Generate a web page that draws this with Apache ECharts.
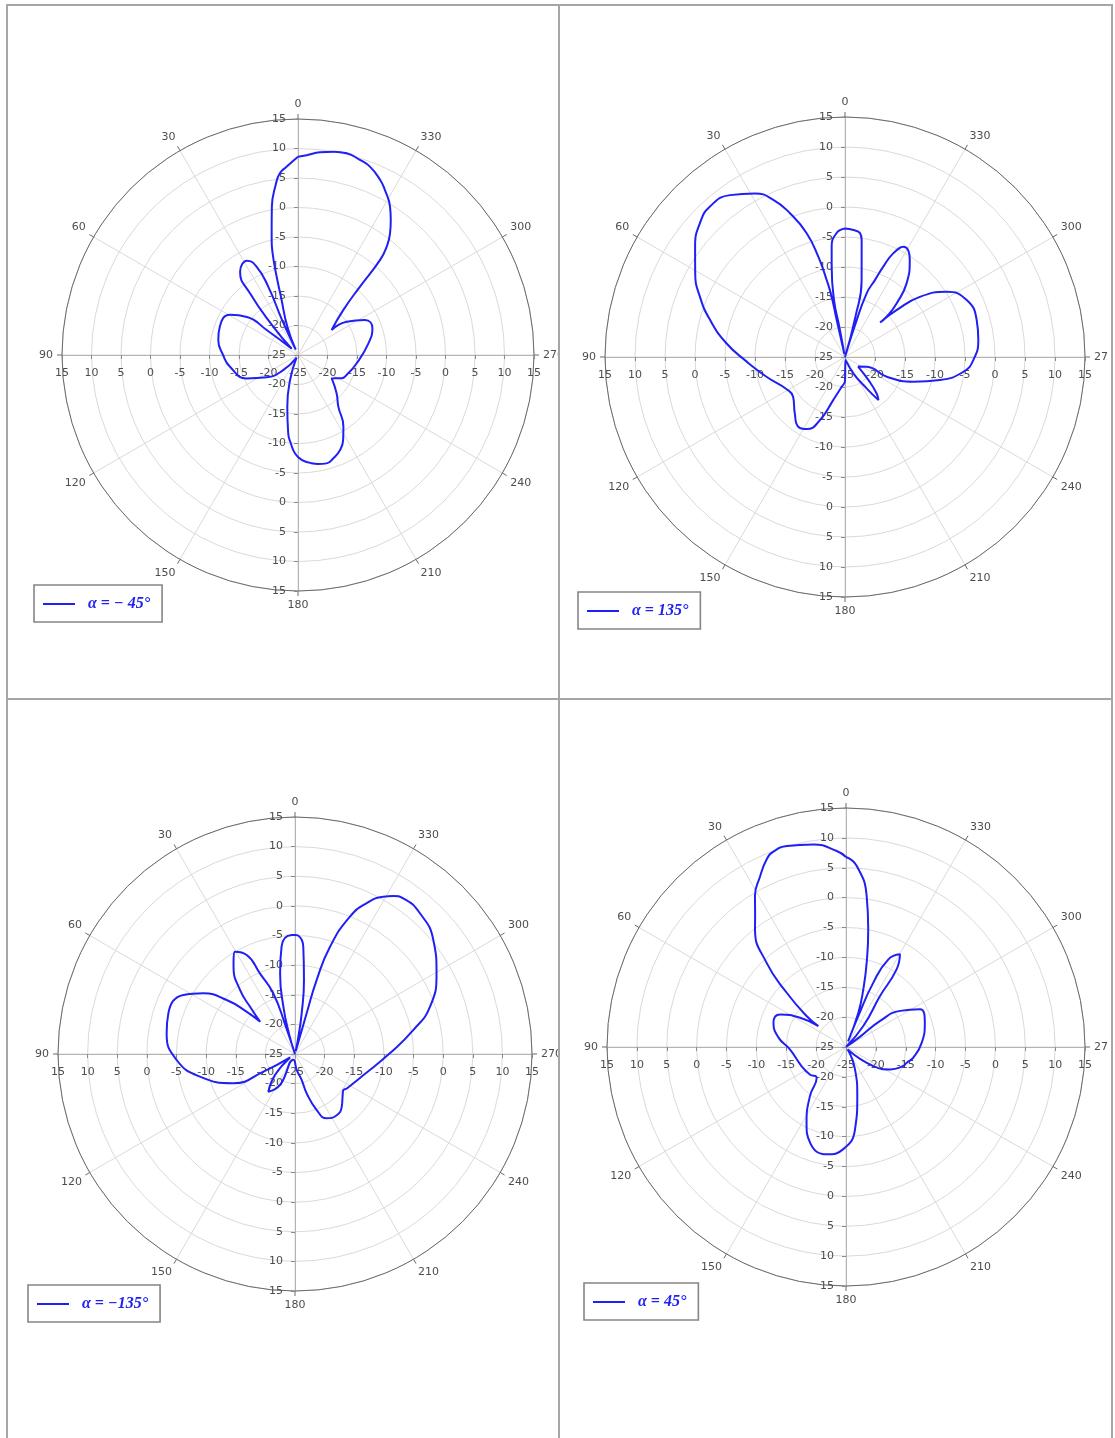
<!DOCTYPE html>
<html><head><meta charset="utf-8">
<script src="https://cdn.jsdelivr.net/npm/echarts@6/dist/echarts.min.js"></script>
<style>
html,body{margin:0;padding:0;background:#fff;}
#wrap{position:relative;width:1115px;height:1438px;overflow:hidden;background:#fff;}
.panel{position:absolute;}
.ln{position:absolute;background:#a6a6a6;z-index:5;}
</style></head><body>
<div id="wrap">
  <div class="panel" id="c0" style="left:7px;top:5px;width:552px;height:694px"></div>
  <div class="panel" id="c1" style="left:559px;top:5px;width:549px;height:694px"></div>
  <div class="panel" id="c2" style="left:7px;top:699px;width:552px;height:739px"></div>
  <div class="panel" id="c3" style="left:559px;top:699px;width:549px;height:739px"></div>
  <div class="ln" style="left:6px;top:4px;width:1107px;height:2px"></div>
  <div class="ln" style="left:6px;top:4px;width:2px;height:1434px"></div>
  <div class="ln" style="left:1111px;top:4px;width:2px;height:1434px"></div>
  <div class="ln" style="left:558px;top:4px;width:2px;height:1434px"></div>
  <div class="ln" style="left:6px;top:698px;width:1107px;height:2px"></div>
</div>
<script>
// ---- data (angle in degrees, counter-clockwise from top; gain in dB) ----
const legendNames = ['α = − 45°', 'α = 135°', 'α = −135°', 'α = 45°'];

const angles1 = [0, 3.4, 5.7, 7.3, 10, 11.6, 12.9, 14, 15.1, 16.3, 20.7, 22.5, 24.5, 23.5, 25.1, 28.5, 31.5, 34.8, 37.9, 41.1, 45, 51.4, 53.3, 59.5, 70, 79.3, 90, 99.8, 114.4, 125.5, 135.6, 150, 162.3, 168.3, 172.9, 175.3, 178.3, 182, 186.4, 190.5, 194.8, 198.9, 203.9, 208, 212.3, 218, 225.3, 235.3, 242, 247.7, 262, 279.4, 289.7, 297.6, 304.4, 306.6, 314.8, 317.8, 319.2, 320.7, 322.9, 325.5, 328.2, 332.2, 334.9, 339.1, 342.4, 346.4, 350, 353.8, 357.5, 360];
const gain1 = [8.6, 7.0, 5.95, 4.3, 0.5, -2.8, -5, -7.2, -10.7, -14.7, -19.9, -24, -18.5, -12.4, -8.5, -6.8, -6.9, -7.8, -11.75, -18.6, -23.5, -18.2, -14.2, -11.6, -10.9, -11.25, -12.3, -13.3, -15.4, -18.5, -21.4, -24.5, -20.6, -16.05, -11.6, -10.0, -8.3, -7.2, -6.6, -6.2, -6.0, -6.5, -7.4, -8.7, -10.6, -13.9, -15.8, -18.05, -16.6, -16.1, -14.95, -12.9, -11.6, -12.2, -15, -17.9, -14.2, -9.4, -3.7, -1.27, 0.86, 2.76, 4.6, 6.6, 7.8, 9.17, 9.7, 10.17, 10.0, 9.56, 8.9, 8.6];

const angles2 = [0, 3.9, 6.9, 8.4, 10.9, 10.6, 12, 12.7, 12.5, 13.4, 14.9, 17.2, 20.9, 24.5, 28.8, 35.4, 41.9, 47.3, 53.7, 60.8, 67.4, 74.7, 83.4, 92.7, 104.1, 118.9, 127.5, 138.4, 146.2, 152.1, 158.4, 164.8, 173.6, 180, 190, 207, 214.7, 217.8, 221, 225.4, 234, 245.9, 244.7, 250.1, 256.4, 262.9, 268.7, 277.3, 285.7, 295.1, 302.7, 308.8, 312.3, 314.5, 314.1, 316.1, 320.1, 326.2, 332.1, 335, 337, 338.7, 341.2, 342.5, 344.5, 345.5, 347.8, 351.9, 353.1, 356.2, 360];
const gain2 = [-3.6, -4.3, -6.5, -9.8, -15.3, -19.9, -24.5, -18.7, -14.7, -11.8, -7.7, -3.4, 0.6, 3.8, 6.1, 8.1, 8.7, 7.9, 6.0, 3.6, 1.2, -1.7, -5.1, -8.6, -11.5, -13.9, -14.1, -12.4, -11.0, -11.4, -13.7, -17.6, -20.0, -21, -24.5, -21.9, -18.6, -15.9, -17, -19.5, -22.3, -21.0, -17.3, -12.9, -8.7, -5.1, -3.6, -2.6, -2.2, -2.6, -4.9, -9.0, -13.4, -16.8, -15.3, -12.6, -9.0, -5.6, -4.2, -5.9, -8.6, -11.2, -13.8, -19.5, -25, -18, -11.9, -5.3, -4.2, -3.8, -3.6];

const angles3 = [0, 1.6, 7.1, 10.5, 13.8, 16.5, 18, 18.5, 19.7, 23.5, 26, 30.4, 35.2, 40.7, 43.6, 47.3, 48.8, 51.7, 56.5, 62.1, 72.2, 80.9, 92.9, 103.4, 115.4, 119.2, 125, 136.4, 144.7, 154.2, 165, 186, 194.4, 196.5, 201.1, 206.2, 214.3, 221.5, 228, 232.8, 236.4, 252.9, 270.4, 281.5, 289.3, 299.7, 309.5, 318.4, 325.2, 328.1, 330.7, 334.6, 338.2, 341.9, 343.7, 344, 346.5, 349, 350.7, 353.1, 355.6, 358.5, 360];
const gain3 = [-4.9, -4.9, -6.7, -11.2, -16.8, -21.5, -25, -20, -14.1, -10.2, -6.4, -5.0, -7.0, -10.8, -14.0, -17.0, -14.2, -10.3, -6.45, -3.7, -2.55, -3.06, -5.0, -8.5, -13.5, -18.9, -24, -20.1, -17.2, -19.2, -24, -22.3, -20.5, -18.1, -14.9, -12.9, -12.5, -13.1, -14.2, -14.8, -14.5, -12.9, -9.0, -4.6, -0.85, 2.5, 5.26, 6.76, 7.0, 6.4, 5.45, 3.2, -0.03, -5.9, -12.0, -17.9, -24.5, -22.0, -18.0, -12.4, -6.8, -5.0, -4.9];

const angles4 = [0, 2.7, 9.2, 16.4, 20.4, 22.9, 26.8, 31.1, 34.2, 37.7, 43.3, 47.5, 51.8, 52.8, 57.5, 63.7, 71.5, 82.1, 92.4, 113.2, 127.2, 136.3, 143.7, 152.5, 159.4, 169.8, 178.5, 186.2, 193, 202, 215, 235.2, 243.1, 251.7, 255.5, 261, 273.3, 287.1, 297, 303.7, 307.4, 306, 312, 320.5, 326.3, 326.9, 329.8, 334.2, 337, 338.3, 339.5, 340.2, 343.3, 346.2, 349.3, 352.2, 356.6, 360];
const gain4 = [6.8, 7.84, 9.35, 10.07, 9.88, 9.1, 6.93, 4.5, 2.06, -0.1, -5.6, -11.5, -16.6, -19.2, -15.9, -12.7, -12.2, -13.6, -15.6, -16.9, -17.4, -17.9, -14.8, -10.7, -7.9, -6.75, -7.9, -11.1, -16.6, -21.0, -24.5, -19.4, -16.7, -14.9, -14.5, -13.6, -12.3, -11.2, -11.1, -14.1, -17.8, -22.2, -25, -20.4, -14.7, -9.5, -7.05, -8.7, -13.3, -19.4, -24, -18.9, -14.9, -10.5, -4.96, 0.5, 5.35, 6.8];

const RADIUS_MIN = -25, RADIUS_MAX = 15, RADIUS_STEP = 5;
const ANGLE_STEP = 30;

// ---- layout / style ----
const layouts = [
  {cx: 291, cy: 350, r: 236, lx: 27, ly: 580},
  {cx: 286, cy: 352, r: 240, lx: 19, ly: 587},
  {cx: 288, cy: 355, r: 237, lx: 21, ly: 586},
  {cx: 287, cy: 348, r: 239, lx: 25, ly: 584}
];
const series = [[angles1, gain1], [angles2, gain2], [angles3, gain3], [angles4, gain4]];
const BLUE = '#2020f4';
const FONT = 'DejaVu Sans';
const LABEL_COLOR = '#4d4d4d';

function makeOption(i) {
  const L = layouts[i];
  const starts = [90, 270, 180, 0];
  const polar = starts.map(() => ({center: [L.cx, L.cy], radius: L.r}));
  const angleAxis = starts.map((s, k) => ({
    polarIndex: k, type: 'value', min: 0, max: 360, interval: ANGLE_STEP,
    startAngle: s, clockwise: false,
    axisLine: {show: k === 0, lineStyle: {color: '#6a6a6a', width: 1}},
    axisTick: {show: k === 0, length: 5, lineStyle: {color: '#6a6a6a'}},
    axisLabel: {show: k === 0, margin: 9, color: LABEL_COLOR, fontSize: 11, fontFamily: FONT,
      formatter: v => (v >= 360 ? '' : String(v))},
    splitLine: {show: k === 0, lineStyle: {color: '#dadada', width: 1}},
    splitArea: {show: false}
  }));
  const labelCfg = [
    {margin: 12},
    {margin: -12, align: 'right', verticalAlign: 'middle'},
    {margin: 13},
    {margin: -13, align: 'center', verticalAlign: 'top'}
  ];
  const radiusAxis = starts.map((s, k) => ({
    polarIndex: k, type: 'value', min: RADIUS_MIN, max: RADIUS_MAX, interval: RADIUS_STEP,
    axisLine: {show: true, lineStyle: {color: '#b4b4b4', width: 1}},
    axisTick: {show: true, length: (k === 1 || k === 3) ? -4 : 4, lineStyle: {color: '#8a8a8a'}},
    axisLabel: Object.assign({color: LABEL_COLOR, fontSize: 11, fontFamily: FONT,
      formatter: v => ((v === RADIUS_MIN && (k === 1 || k === 2)) ? '' : String(v))}, labelCfg[k]),
    splitLine: {show: k === 0, lineStyle: {color: '#dadada', width: 1}},
    splitArea: {show: false}
  }));
  const [ang, gain] = series[i];
  return {
    animation: false,
    backgroundColor: '#fff',
    polar, angleAxis, radiusAxis,
    legend: {
      data: [legendNames[i]], left: L.lx, top: L.ly, orient: 'horizontal',
      padding: [11, 12, 10, 9], borderColor: '#858585', borderWidth: 1.6, borderRadius: 0,
      icon: 'rect', itemWidth: 32, itemHeight: 2, selectedMode: false,
      formatter: n => '  ' + n,
      textStyle: {color: BLUE, fontFamily: 'Liberation Serif', fontSize: 16, fontWeight: 'bold', fontStyle: 'italic'}
    },
    series: [{
      type: 'line', name: legendNames[i], coordinateSystem: 'polar', polarIndex: 0,
      data: ang.map((a, j) => [gain[j], a]),
      smooth: 0.5, symbol: 'none', clip: false,
      lineStyle: {color: BLUE, width: 2}, itemStyle: {color: BLUE}, z: 10
    }]
  };
}

for (let i = 0; i < 4; i++) {
  const chart = echarts.init(document.getElementById('c' + i), null, {renderer: 'canvas'});
  chart.setOption(makeOption(i));
}
</script>
</body></html>
